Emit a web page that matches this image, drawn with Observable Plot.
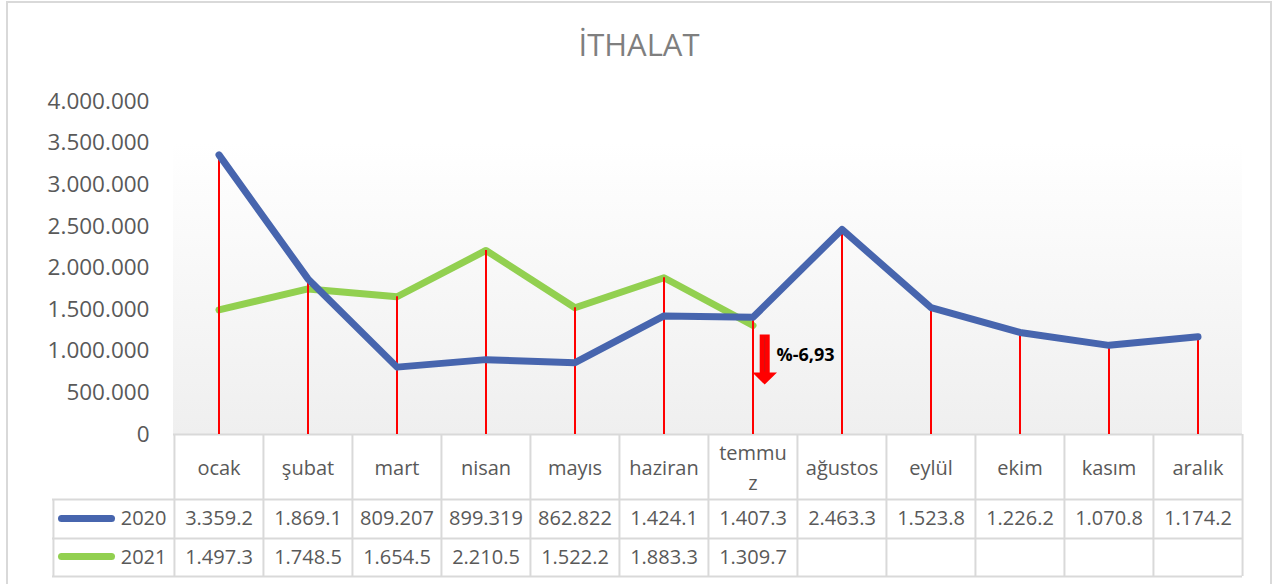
<!DOCTYPE html>
<html><head><meta charset="utf-8">
<script src="https://cdn.jsdelivr.net/npm/d3@7"></script>
<script src="https://cdn.jsdelivr.net/npm/@observablehq/plot@0.6"></script>
<style>
body{margin:0;background:#fff;overflow:hidden;font-family:"Open Sans",sans-serif;}
#frame{position:absolute;left:6px;top:1px;width:1266px;height:640px;border:2px solid #d9d9d9;box-sizing:border-box;}
#title{position:absolute;left:6px;top:29px;width:1266px;text-align:center;font-size:31px;line-height:1;color:#7f7f7f;}
#chart{position:absolute;left:0;top:85px;}
</style></head><body>
<div id="frame"></div>
<div id="title">İTHALAT</div>
<div id="chart"></div>
<script>
// ---- data ----
const months = ["ocak","şubat","mart","nisan","mayıs","haziran","temmuz","ağustos","eylül","ekim","kasım","aralık"];
const headerLabels = ["ocak","şubat","mart","nisan","mayıs","haziran","temmu\nz","ağustos","eylül","ekim","kasım","aralık"];
const seriesNames = ["2020","2021"];
const values2020 = [3359200,1869100,809207,899319,862822,1424100,1407300,2463300,1523800,1226200,1070800,1174200];
const values2021 = [1497300,1748500,1654500,2210500,1522200,1883300,1309700,null,null,null,null,null];
const labels2020 = ["3.359.2","1.869.1","809.207","899.319","862.822","1.424.1","1.407.3","2.463.3","1.523.8","1.226.2","1.070.8","1.174.2"];
const labels2021 = ["1.497.3","1.748.5","1.654.5","2.210.5","1.522.2","1.883.3","1.309.7","","","","",""];
const yTicks = [0,500000,1000000,1500000,2000000,2500000,3000000,3500000,4000000];
const changeMonth = "temmuz";
const changeLabel = "%-6,93";

// ---- layout / style ----
const W = 1285, H = 499, mL = 173, mR = 43, mT = 16, mB = 150;
const bw = (W - mL - mR) / months.length;
const blue = "#4765ae", green = "#92d050", grid = "#d9d9d9", txt = "#595959";
const bgTop = 3500000;

const rows2020 = months.map((m, i) => ({month: m, v: values2020[i]}));
const rows2021 = months.map((m, i) => ({month: m, v: values2021[i]})).filter(d => d.v != null);
const maxRows = months.map((m, i) => ({month: m, v: Math.max(values2020[i], values2021[i] ?? -Infinity)}));

const nf = d3.formatLocale({decimal: ",", thousands: ".", grouping: [3], currency: ["", ""]}).format(",d");

const background = (index, scales, values, dims) => {
  const ns = "http://www.w3.org/2000/svg";
  const g = document.createElementNS(ns, "g");
  g.innerHTML = '<defs><linearGradient id="bgGrad" x1="0" y1="0" x2="0" y2="1"><stop offset="0" stop-color="#ffffff"/><stop offset="1" stop-color="#efefef"/></linearGradient></defs>';
  const r = document.createElementNS(ns, "rect");
  const y0 = scales.y(0), y1 = scales.y(bgTop);
  r.setAttribute("x", dims.marginLeft);
  r.setAttribute("y", y1);
  r.setAttribute("width", dims.width - dims.marginLeft - dims.marginRight);
  r.setAttribute("height", y0 - y1);
  r.setAttribute("fill", "url(#bgGrad)");
  g.appendChild(r);
  return g;
};

const arrowSymbol = {
  draw(ctx) {
    ctx.moveTo(-5, -25); ctx.lineTo(5, -25); ctx.lineTo(5, 13); ctx.lineTo(12.3, 13);
    ctx.lineTo(0, 25); ctx.lineTo(-12.3, 13); ctx.lineTo(-5, 13); ctx.closePath();
  }
};

const rowDy = [0, 65, 104, 142];
const textDy = [31, 84.5, 123];
const swatchX1 = 61.5, swatchX2 = 111.5;

const chart = Plot.plot({
  width: W, height: H,
  marginLeft: mL, marginRight: mR, marginTop: mT, marginBottom: mB,
  style: {fontFamily: "Open Sans, sans-serif", fontSize: "22.5px", color: txt, background: "transparent", overflow: "visible"},
  x: {type: "band", domain: months, padding: 0, axis: null},
  y: {domain: [0, 4000000], ticks: yTicks, tickFormat: nf, tickSize: 0, tickPadding: 24, label: null},
  marks: [
    background,
    // table grid: horizontal lines
    Plot.ruleY([0], {dy: rowDy[0], stroke: grid, strokeWidth: 2}),
    Plot.ruleY([0], {dy: rowDy[1], insetLeft: -121, stroke: grid, strokeWidth: 2}),
    Plot.ruleY([0], {dy: rowDy[2], insetLeft: -121, stroke: grid, strokeWidth: 2}),
    Plot.ruleY([0], {dy: rowDy[3], insetLeft: -121, stroke: grid, strokeWidth: 2}),
    // table grid: vertical lines
    Plot.ruleX(months, {x: d => d, y1: 0, y2: 0, dx: -bw / 2, insetBottom: -rowDy[3], stroke: grid, strokeWidth: 2}),
    Plot.ruleX([months[months.length - 1]], {x: d => d, y1: 0, y2: 0, dx: bw / 2, insetBottom: -rowDy[3], stroke: grid, strokeWidth: 2}),
    Plot.ruleX([months[0]], {x: d => d, y1: 0, y2: 0, dx: -bw / 2 - 121, insetTop: rowDy[1], insetBottom: -rowDy[3], stroke: grid, strokeWidth: 2}),
    // table text
    Plot.text(months, {x: d => d, y: 0, text: (d, i) => headerLabels[i], dy: textDy[0], fontSize: 20, lineHeight: 1.5, fill: txt}),
    Plot.text(months, {x: d => d, y: 0, text: (d, i) => labels2020[i], dy: textDy[1], fontSize: 20, fill: txt}),
    Plot.text(months.filter((d, i) => labels2021[i] !== ""), {x: d => d, y: 0, text: d => labels2021[months.indexOf(d)], dy: textDy[2], fontSize: 20, fill: txt}),
    // legend column
    Plot.text([seriesNames[0]], {x: () => months[0], y: 0, text: d => d, dx: -bw / 2 - 8, dy: textDy[1], textAnchor: "end", fontSize: 20, fill: txt}),
    Plot.text([seriesNames[1]], {x: () => months[0], y: 0, text: d => d, dx: -bw / 2 - 8, dy: textDy[2], textAnchor: "end", fontSize: 20, fill: txt}),
    Plot.ruleY([0], {dy: 84, insetLeft: swatchX1 - mL, insetRight: (W - mR) - swatchX2, stroke: blue, strokeWidth: 7, strokeLinecap: "round"}),
    Plot.ruleY([0], {dy: 122, insetLeft: swatchX1 - mL, insetRight: (W - mR) - swatchX2, stroke: green, strokeWidth: 7, strokeLinecap: "round"}),
    // series
    Plot.line(rows2021, {x: "month", y: "v", stroke: green, strokeWidth: 7, strokeLinecap: "round", strokeLinejoin: "round"}),
    Plot.ruleX(maxRows, {x: "month", y1: 0, y2: "v", stroke: "#ff0000", strokeWidth: 2}),
    Plot.line(rows2020, {x: "month", y: "v", stroke: blue, strokeWidth: 7, strokeLinecap: "round", strokeLinejoin: "round"}),
    // annotation
    Plot.dot([{month: changeMonth, v: 900000}], {x: "month", y: "v", symbol: arrowSymbol, fill: "#ff0000", stroke: "none", dx: 11.7}),
    Plot.ruleX([{month: changeMonth}], {x: "month", y1: 1170000, y2: 750000, dx: 11.7, stroke: "#b02020", strokeWidth: 1, strokeOpacity: 0.6}),
    Plot.text([changeLabel], {x: () => changeMonth, y: 950000, text: d => d, dx: 23.5, textAnchor: "start", fontWeight: "bold", fontSize: 18, fill: "#000"})
  ]
});
document.getElementById("chart").appendChild(chart);
</script>
</body></html>
